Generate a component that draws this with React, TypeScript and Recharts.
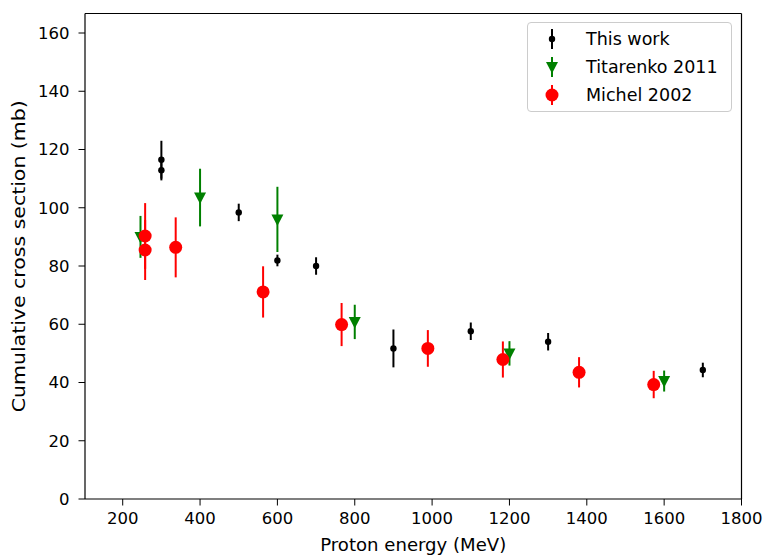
import React from "react";
import {
  ScatterChart,
  Scatter,
  XAxis,
  YAxis,
  ErrorBar,
  ReferenceLine,
} from "recharts";

// This work
const thisWorkEnergy = [300, 300, 500, 600, 700, 900, 1100, 1300, 1700];
const thisWorkValue = [116.5, 112.9, 98.4, 81.9, 80.0, 51.7, 57.6, 54.0, 44.3];
const thisWorkErr = [6.5, 3.5, 3.0, 2.0, 3.0, 6.5, 3.0, 3.0, 2.5];

// Titarenko 2011
const titarenkoEnergy = [246, 400, 600, 800, 1200, 1600];
const titarenkoValue = [90.0, 103.5, 96.0, 60.8, 50.0, 40.5];
const titarenkoErr = [7.2, 9.9, 11.2, 5.9, 4.2, 3.6];

// Michel 2002
const michelEnergy = [258, 258, 337, 563, 766, 989, 1183, 1380, 1573];
const michelValue = [90.3, 85.5, 86.4, 71.1, 59.9, 51.7, 47.9, 43.5, 39.3];
const michelErr = [11.3, 10.3, 10.3, 8.8, 7.4, 6.3, 6.2, 5.2, 4.7];

const xTicks = [200, 400, 600, 800, 1000, 1200, 1400, 1600, 1800];
const yTicks = [0, 20, 40, 60, 80, 100, 120, 140, 160];

const xLabel = "Proton energy (MeV)";
const yLabel = "Cumulative cross section (mb)";

const build = (e: number[], v: number[], err: number[]) =>
  e.map((x, i) => ({ x, y: v[i], err: err[i] }));

const thisWork = build(thisWorkEnergy, thisWorkValue, thisWorkErr);
const titarenko = build(titarenkoEnergy, titarenkoValue, titarenkoErr);
const michel = build(michelEnergy, michelValue, michelErr);

const FONT = "'DejaVu Sans', sans-serif";
const GREEN = "#008000";
const RED = "#ff0000";

const BlackDot = (p: any) => <circle cx={p.cx} cy={p.cy} r={3.2} fill="#000" />;
const GreenTri = (p: any) => (
  <polygon
    points={`${p.cx - 6},${p.cy - 5} ${p.cx + 6},${p.cy - 5} ${p.cx},${p.cy + 6.5}`}
    fill={GREEN}
  />
);
const RedDot = (p: any) => <circle cx={p.cx} cy={p.cy} r={6.5} fill={RED} />;

const XAxisLabel = (props: any) => {
  const vb = props.viewBox || {};
  const cx = vb.x + vb.width / 2;
  return (
    <text
      x={cx}
      y={vb.y + 51.5}
      textAnchor="middle"
      fontFamily={FONT}
      fontSize={17}
      fill="#000"
      textLength={186}
      lengthAdjust="spacingAndGlyphs"
    >
      {xLabel}
    </text>
  );
};

const YAxisLabel = (props: any) => {
  const vb = props.viewBox || {};
  const cy = vb.y + vb.height / 2;
  const x = 25;
  return (
    <text
      x={x}
      y={cy}
      transform={`rotate(-90, ${x}, ${cy})`}
      textAnchor="middle"
      fontFamily={FONT}
      fontSize={17.5}
      fill="#000"
      textLength={312}
      lengthAdjust="spacingAndGlyphs"
    >
      {yLabel}
    </text>
  );
};

const legendItems = [
  { label: "This work", kind: "black" },
  { label: "Titarenko 2011", kind: "green" },
  { label: "Michel 2002", kind: "red" },
];

const LegendIcon = ({ kind }: { kind: string }) => {
  const color = kind === "black" ? "#000" : kind === "green" ? GREEN : RED;
  return (
    <svg width={20} height={24} style={{ display: "block" }}>
      <line x1={10} y1={2} x2={10} y2={22} stroke={color} strokeWidth={2} />
      {kind === "black" && <circle cx={10} cy={12} r={3.2} fill={color} />}
      {kind === "green" && <polygon points={`4,7 16,7 10,18.5`} fill={color} />}
      {kind === "red" && <circle cx={10} cy={12} r={6.5} fill={color} />}
    </svg>
  );
};

const LegendBox = () => (
  <div
    style={{
      position: "absolute",
      left: 527,
      top: 22,
      width: 205,
      height: 90,
      border: "1px solid #cccccc",
      borderRadius: 4,
      background: "rgba(255,255,255,0.8)",
      boxSizing: "border-box",
      fontFamily: FONT,
      fontSize: 17.5,
      color: "#000",
      paddingTop: 2,
    }}
  >
    {legendItems.map((it) => (
      <div key={it.label} style={{ display: "flex", alignItems: "center", height: 28 }}>
        <div style={{ marginLeft: 14, width: 20 }}>
          <LegendIcon kind={it.kind} />
        </div>
        <span style={{ marginLeft: 24, lineHeight: "28px", whiteSpace: "nowrap" }}>
          {it.label}
        </span>
      </div>
    ))}
  </div>
);

export default function App() {
  return (
    <div style={{ position: "absolute", left: 0, top: 0, width: 766, height: 555, background: "#fff" }}>
      <ScatterChart
        width={766}
        height={555}
        margin={{ top: 13.5, right: 24.5, bottom: 0, left: 0 }}
      >
        <XAxis
          type="number"
          dataKey="x"
          domain={[102.5, 1800]}
          ticks={xTicks}
          allowDataOverflow
          height={56}
          tickSize={6.5}
          tickMargin={7}
          stroke="#000"
          tick={{ fill: "#000", fontSize: 16.5, fontFamily: FONT }}
          tickLine={{ stroke: "#000", strokeWidth: 1 }}
          axisLine={{ stroke: "#000", strokeWidth: 1.2 }}
          label={<XAxisLabel />}
        />
        <YAxis
          type="number"
          dataKey="y"
          domain={[0, 166.7]}
          ticks={yTicks}
          allowDataOverflow
          width={85}
          tickSize={6.5}
          tickMargin={9}
          stroke="#000"
          tick={{ fill: "#000", fontSize: 16.5, fontFamily: FONT }}
          tickLine={{ stroke: "#000", strokeWidth: 1 }}
          axisLine={{ stroke: "#000", strokeWidth: 1.2 }}
          label={<YAxisLabel />}
        />
        <ReferenceLine y={166.7} stroke="#000" strokeWidth={1.2} ifOverflow="visible" />
        <ReferenceLine x={1800} stroke="#000" strokeWidth={1.2} ifOverflow="visible" />
        <Scatter name="This work" data={thisWork} shape={BlackDot} fill="#000" isAnimationActive={false}>
          <ErrorBar dataKey="err" direction="y" width={0} stroke="#000" strokeWidth={2} />
        </Scatter>
        <Scatter name="Titarenko 2011" data={titarenko} shape={GreenTri} fill={GREEN} isAnimationActive={false}>
          <ErrorBar dataKey="err" direction="y" width={0} stroke={GREEN} strokeWidth={2} />
        </Scatter>
        <Scatter name="Michel 2002" data={michel} shape={RedDot} fill={RED} isAnimationActive={false}>
          <ErrorBar dataKey="err" direction="y" width={0} stroke={RED} strokeWidth={2} />
        </Scatter>
      </ScatterChart>
      <LegendBox />
    </div>
  );
}
